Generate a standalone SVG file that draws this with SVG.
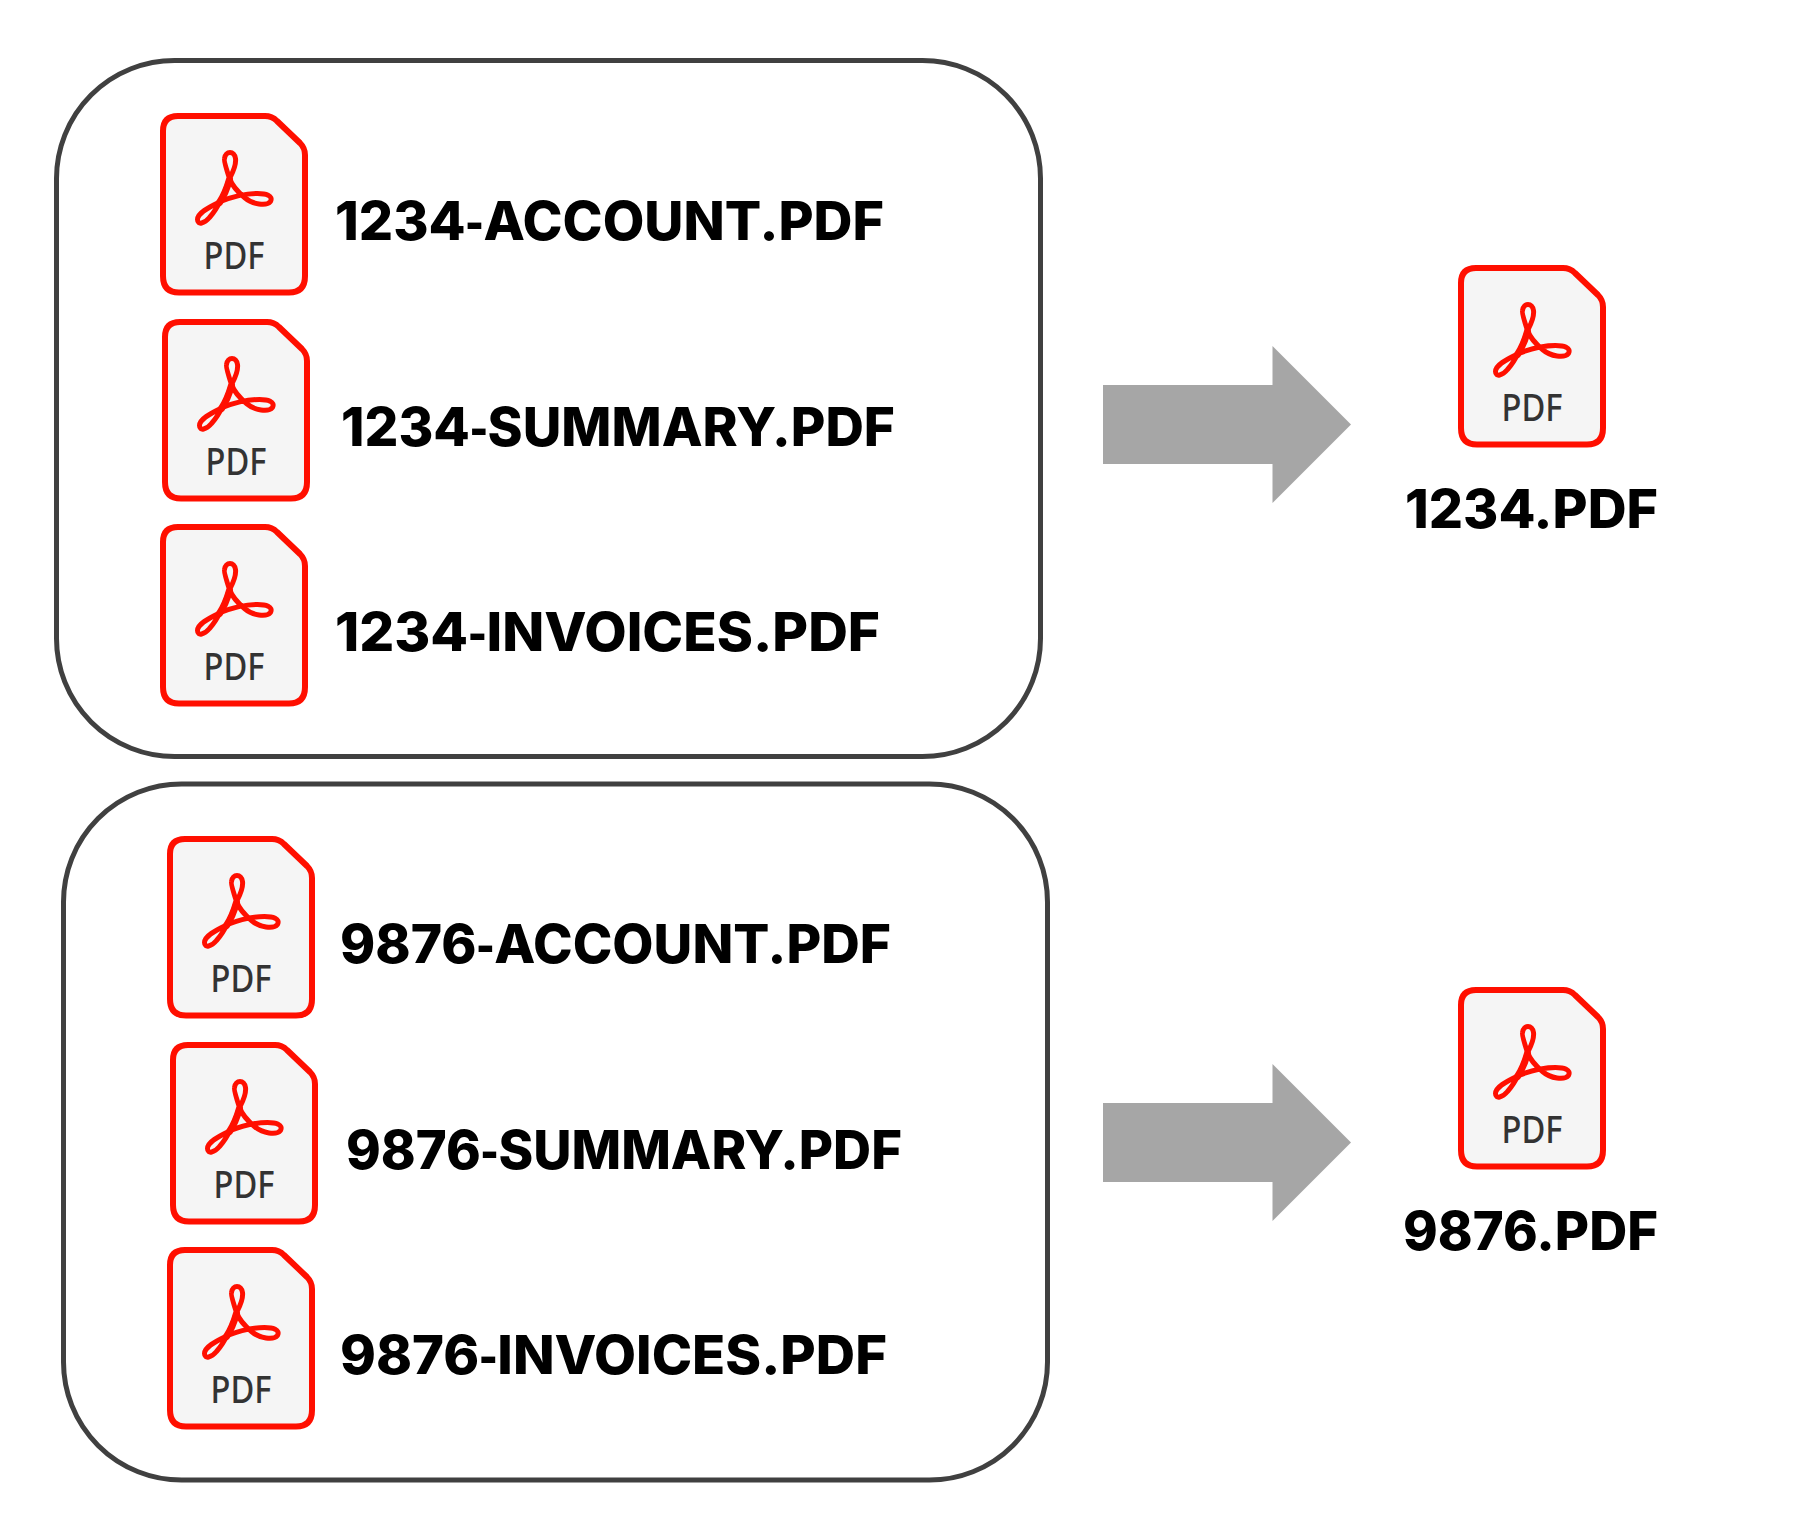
<svg xmlns="http://www.w3.org/2000/svg" width="1798" height="1534" viewBox="0 0 1798 1534">
<style>
.box{fill:#fff;stroke:#404040;stroke-width:5}
.sheet{fill:#f5f5f5;stroke:#ff0f00;stroke-width:6}
.logo{fill:none;stroke:#ff0f00;stroke-width:5;stroke-linejoin:round}
.leg{fill:none;stroke:#ff0f00;stroke-width:7;stroke-linecap:round}
.pdf{font-family:"Noto Sans","Liberation Sans",sans-serif;font-weight:500;font-size:38px;fill:#333;text-anchor:middle}
.t{font-family:Inter,"Liberation Sans",Arial,sans-serif;font-weight:800;font-size:54px;fill:#000}
.h{font-family:"Liberation Sans",Arial,sans-serif;font-weight:700}
.arrow{fill:#a6a6a6}
</style>
<defs>
<g id="icon">
<path class="sheet" d="M18,3H105Q112,3 117,8L140,30Q145,35 145,42V163Q145,179.500 129,179.500H19Q3,179.500 3,163V18Q3,3 18,3Z"/>
<g transform="translate(0.500,1.500)">
<path class="logo" d="M60,87C50,92 37,98 37,105C37,111 44,109 49,103C58,93 66,75 69,64C66,55 63,46 64,44C65,36 74,36 75,44C76,52 71,60 69,64C72,72 78,78 84,83C92,90 106,92 110,87C113,81 105,79 97,79C84,79 70,83 60,87Z"/>
<path class="leg" d="M59,88C63,82 67,72 69,65"/>
</g>
</g>
</defs>
<g id="group-1"><rect class="box" x="56.500" y="60.500" width="984" height="696" rx="118"/></g>
<g id="group-2"><rect class="box" x="63.500" y="784" width="984" height="696" rx="118"/></g>
<g id="connectors">
<path class="arrow" d="M1103,385H1272.500V346L1351,424.500L1272.500,503V464H1103Z"/>
<path class="arrow" d="M1103,1103H1272.500V1064L1351,1142.500L1272.500,1221V1182H1103Z"/>
</g>
<g id="n1"><use href="#icon" x="160" y="113"/><text class="pdf" x="234" y="268.500" textLength="61" lengthAdjust="spacingAndGlyphs">PDF</text><text class="t" x="335" y="240" textLength="549" lengthAdjust="spacingAndGlyphs">1234<tspan class="h">-</tspan>ACCOUNT.PDF</text></g>
<g id="n2"><use href="#icon" x="162" y="319"/><text class="pdf" x="236" y="474.500" textLength="61" lengthAdjust="spacingAndGlyphs">PDF</text><text class="t" x="341" y="446" textLength="554" lengthAdjust="spacingAndGlyphs">1234<tspan class="h">-</tspan>SUMMARY.PDF</text></g>
<g id="n3"><use href="#icon" x="160" y="524"/><text class="pdf" x="234" y="679.500" textLength="61" lengthAdjust="spacingAndGlyphs">PDF</text><text class="t" x="335" y="651" textLength="545" lengthAdjust="spacingAndGlyphs">1234<tspan class="h">-</tspan>INVOICES.PDF</text></g>
<g id="n4"><use href="#icon" x="1458" y="265"/><text class="pdf" x="1532" y="420.500" textLength="61" lengthAdjust="spacingAndGlyphs">PDF</text><text class="t" x="1405" y="528" textLength="253" lengthAdjust="spacingAndGlyphs">1234.PDF</text></g>
<g id="n5"><use href="#icon" x="167" y="836"/><text class="pdf" x="241" y="991.500" textLength="61" lengthAdjust="spacingAndGlyphs">PDF</text><text class="t" x="340" y="963" textLength="551" lengthAdjust="spacingAndGlyphs">9876<tspan class="h">-</tspan>ACCOUNT.PDF</text></g>
<g id="n6"><use href="#icon" x="170" y="1042"/><text class="pdf" x="244" y="1197.500" textLength="61" lengthAdjust="spacingAndGlyphs">PDF</text><text class="t" x="346" y="1169" textLength="556" lengthAdjust="spacingAndGlyphs">9876<tspan class="h">-</tspan>SUMMARY.PDF</text></g>
<g id="n7"><use href="#icon" x="167" y="1247"/><text class="pdf" x="241" y="1402.500" textLength="61" lengthAdjust="spacingAndGlyphs">PDF</text><text class="t" x="340" y="1374" textLength="547" lengthAdjust="spacingAndGlyphs">9876<tspan class="h">-</tspan>INVOICES.PDF</text></g>
<g id="n8"><use href="#icon" x="1458" y="987"/><text class="pdf" x="1532" y="1142.500" textLength="61" lengthAdjust="spacingAndGlyphs">PDF</text><text class="t" x="1403" y="1250" textLength="255" lengthAdjust="spacingAndGlyphs">9876.PDF</text></g>
</svg>
